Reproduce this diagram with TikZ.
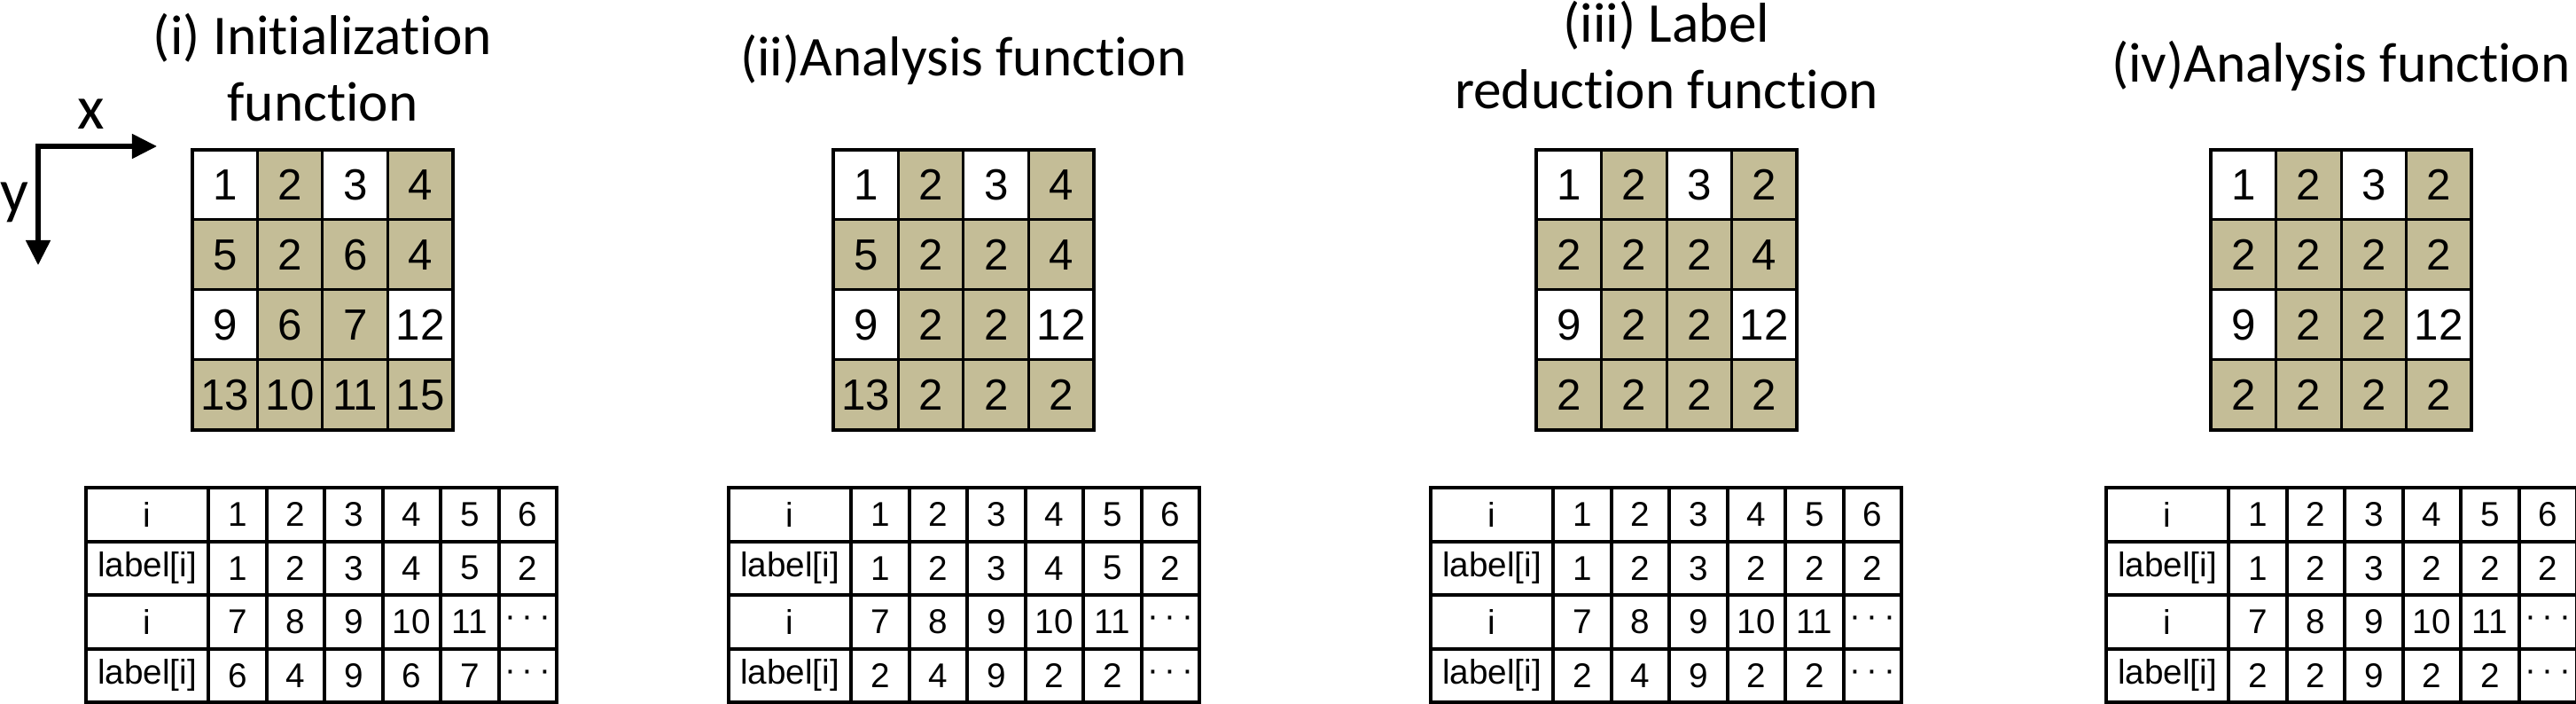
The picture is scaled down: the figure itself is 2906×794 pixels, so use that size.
\documentclass[tikz,border=0pt]{standalone}
\usepackage{fontspec}
\setmainfont{Carlito}[Ligatures=NoCommon]
\newfontfamily\cellfont{Liberation Sans}
\usetikzlibrary{arrows.meta}
\definecolor{celltan}{RGB}{196,189,151}
\newcommand{\tdots}{\textperiodcentered\,\textperiodcentered\,\textperiodcentered}

% 4x4 label grid: name, left edge, values row by row
\newcommand{\labelgrid}[3]{%
  \foreach \v [count=\k from 0] in {#3} {
    \pgfmathtruncatemacro\gr{div(\k,4)}
    \pgfmathtruncatemacro\gc{mod(\k,4)}
    \pgfmathtruncatemacro\isdark{{0,1,0,1,1,1,1,1,0,1,1,0,1,1,1,1}[\k]}
    \ifnum\isdark=1 \def\cellfill{celltan}\else\def\cellfill{white}\fi
    \node[gridcell,fill=\cellfill] (#1-\gr-\gc)
      at ({#2+36.75+73.5*\gc},{208.5+79*\gr}) {\v};
  }
  \draw[line width=0.045cm] (#1-0-0.north west) rectangle (#1-3-3.south east);
}

% label table: name, left edge, label[1..6], label[7..]
\newcommand{\labeltable}[4]{%
  \foreach \v [count=\k from 0] in {i,1,2,3,4,5,6,label[i],#3,i,7,8,9,10,11,\tdots,label[i],#4} {
    \pgfmathtruncatemacro\tr{div(\k,7)}
    \pgfmathtruncatemacro\tc{mod(\k,7)}
    \ifnum\tc=0
      \node[tablecell,minimum width=1.38cm] (#1-\tr-\tc)
        at (#2,{550+60.5*\tr}) {\v};
    \else
      \node[tablecell,minimum width=0.655cm] (#1-\tr-\tc)
        at ({#2+138+65.5*(\tc-1)},{550+60.5*\tr}) {\v};
    \fi
  }
}

\begin{document}
\begin{tikzpicture}[x=0.01cm,y=-0.01cm,
    paneltitle/.style={font=\fontsize{18}{21.6}\selectfont,align=center,inner sep=0pt},
    axislabel/.style={font=\fontsize{20}{24}\selectfont,inner sep=0pt},
    gridcell/.style={draw,line width=0.03cm,minimum width=0.735cm,minimum height=0.79cm,
      inner sep=0pt,outer sep=0pt,font=\cellfont\fontsize{14}{14}\selectfont},
    tablecell/.style={draw,line width=0.04cm,minimum height=0.605cm,anchor=north west,
      inner sep=0pt,outer sep=0pt,font=\cellfont\fontsize{11}{11}\selectfont},
    axis/.style={line width=0.05cm,{Triangle[length=0.28cm,width=0.27cm]}-{Triangle[length=0.28cm,width=0.27cm]}}]
  \path[use as bounding box,fill=white] (0,0) rectangle (2906,794);

  % axes
  \coordinate (origin) at (43,165);
  \coordinate (xend) at (177,165);
  \coordinate (yend) at (43,299);
  \draw[axis] (xend) -- (origin) -- (yend);
  \node[axislabel,anchor=base] (xlabel) at (103,146) {x};
  \node[axislabel,anchor=base] (ylabel) at (16,239) {y};

  % titles (base = last line)
  \node[paneltitle,anchor=base] (title1) at (364,137) {(i) Initialization\\function};
  \node[paneltitle,anchor=base] (title2) at (1087,86) {(ii)Analysis function};
  \node[paneltitle,anchor=base] (title3) at (1880,123) {(iii) Label\\reduction function};
  \node[paneltitle,anchor=base] (title4) at (2641,93) {(iv)Analysis function};

  % grids
  \labelgrid{init}{217}{1,2,3,4,5,2,6,4,9,6,7,12,13,10,11,15}
  \labelgrid{anaA}{940}{1,2,3,4,5,2,2,4,9,2,2,12,13,2,2,2}
  \labelgrid{red}{1733}{1,2,3,2,2,2,2,4,9,2,2,12,2,2,2,2}
  \labelgrid{anaB}{2494}{1,2,3,2,2,2,2,2,9,2,2,12,2,2,2,2}

  % tables
  \labeltable{tinit}{97}{1,2,3,4,5,2}{6,4,9,6,7,\tdots}
  \labeltable{tanaA}{822}{1,2,3,4,5,2}{2,4,9,2,2,\tdots}
  \labeltable{tred}{1614}{1,2,3,2,2,2}{2,4,9,2,2,\tdots}
  \labeltable{tanaB}{2376}{1,2,3,2,2,2}{2,2,9,2,2,\tdots}
\end{tikzpicture}
\end{document}
